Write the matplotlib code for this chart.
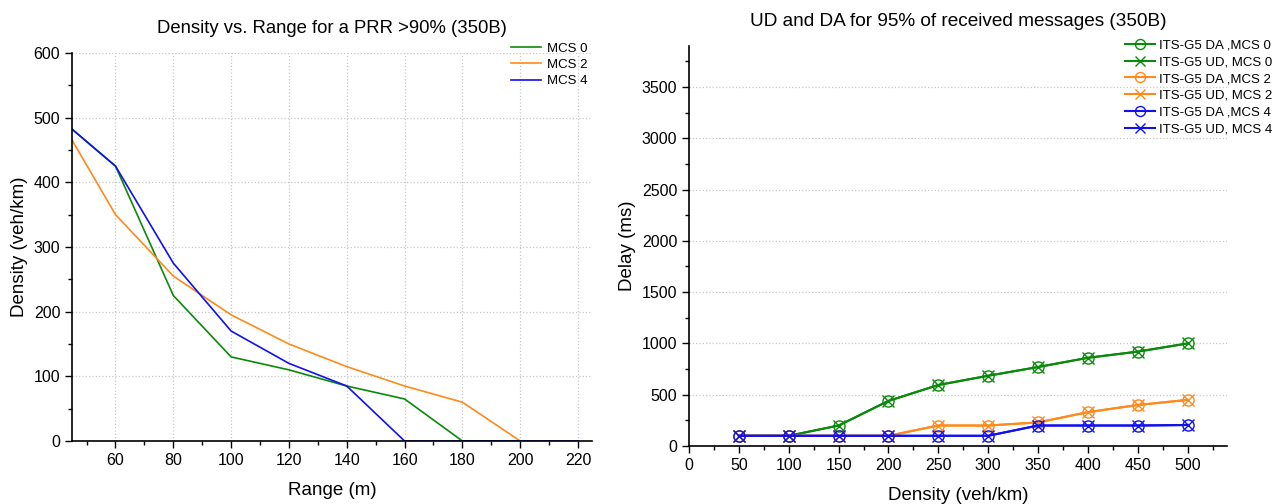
import matplotlib
matplotlib.use("Agg")
from matplotlib import pyplot as plt
from matplotlib.ticker import MultipleLocator

plt.rcParams['font.family'] = ['Liberation Sans', 'DejaVu Sans']

# left chart: density vs range
rng = [45, 60, 80, 100, 120, 140, 160, 180, 200, 220]
mcs0_density = [482, 425, 225, 130, 110, 85, 65, 0, 0, 0]
mcs2_density = [465, 350, 255, 195, 150, 115, 85, 60, 0, 0]
mcs4_density = [482, 425, 275, 170, 120, 85, 0, 0, 0, 0]

# right chart: delay vs density
density = [50, 100, 150, 200, 250, 300, 350, 400, 450, 500]
mcs0_da = [100, 100, 200, 440, 595, 685, 770, 860, 920, 1000]
mcs0_ud = [100, 100, 200, 440, 595, 685, 770, 860, 920, 1000]
mcs2_da = [100, 100, 100, 100, 200, 200, 230, 330, 400, 450]
mcs2_ud = [100, 100, 100, 100, 200, 200, 230, 330, 400, 450]
mcs4_da = [100, 100, 100, 100, 100, 100, 200, 200, 200, 205]
mcs4_ud = [100, 100, 100, 100, 100, 100, 200, 200, 200, 205]

green = '#0a8a0a'
orange = '#ff8a1a'
blue = '#1010f0'

fig = plt.figure(figsize=(12.88, 5.04), dpi=100)

# ---- left
ax1 = fig.add_axes([0.056, 0.125, 0.404, 0.77])
ax1.plot(rng, mcs0_density, color=green, lw=1.2, label='MCS 0')
ax1.plot(rng, mcs2_density, color=orange, lw=1.2, label='MCS 2')
ax1.plot(rng, mcs4_density, color=blue, lw=1.2, label='MCS 4')
ax1.set_xlim(45, 225)
ax1.set_ylim(0, 600)
ax1.xaxis.set_minor_locator(MultipleLocator(10))
ax1.yaxis.set_major_locator(MultipleLocator(100))
ax1.yaxis.set_minor_locator(MultipleLocator(50))
ax1.set_xticks(range(60, 221, 20))
ax1.grid(True, which='major', color='#c8c8c8', ls=':', lw=0.9)
ax1.set_title('Density vs. Range for a PRR >90% (350B)', fontsize=13.3, pad=14)
ax1.set_xlabel('Range (m)', fontsize=13.5, labelpad=10)
ax1.set_ylabel('Density (veh/km)', fontsize=13.5)
ax1.legend(loc='upper right', bbox_to_anchor=(1.0, 1.04), frameon=False,
           fontsize=9.5, handlelength=2.3, labelspacing=0.3, borderaxespad=0,
           handletextpad=0.4)

# ---- right
ax2 = fig.add_axes([0.535, 0.115, 0.418, 0.794])
ax2.plot(density, mcs0_da, color=green, lw=1.5, marker='o', mfc='none', ms=8, mew=1, label='ITS-G5 DA ,MCS 0')
ax2.plot(density, mcs0_ud, color=green, lw=1.5, marker='x', ms=8, mew=1, label='ITS-G5 UD, MCS 0')
ax2.plot(density, mcs2_da, color=orange, lw=1.5, marker='o', mfc='none', ms=8, mew=1, label='ITS-G5 DA ,MCS 2')
ax2.plot(density, mcs2_ud, color=orange, lw=1.5, marker='x', ms=8, mew=1, label='ITS-G5 UD, MCS 2')
ax2.plot(density, mcs4_da, color=blue, lw=1.5, marker='o', mfc='none', ms=8, mew=1, label='ITS-G5 DA ,MCS 4')
ax2.plot(density, mcs4_ud, color=blue, lw=1.5, marker='x', ms=8, mew=1, label='ITS-G5 UD, MCS 4')
ax2.set_xlim(0, 540)
ax2.set_ylim(0, 3900)
ax2.xaxis.set_minor_locator(MultipleLocator(25))
ax2.yaxis.set_minor_locator(MultipleLocator(250))
ax2.set_xticks(range(0, 501, 50))
ax2.set_yticks(range(0, 3501, 500))
ax2.grid(True, axis='y', which='major', color='#c8c8c8', ls=':', lw=0.9)
ax2.set_title('UD and DA for 95% of received messages (350B)', fontsize=13.7, pad=14)
ax2.set_xlabel('Density (veh/km)', fontsize=13.5, labelpad=10)
ax2.set_ylabel('Delay (ms)', fontsize=13.5)
ax2.legend(loc='upper left', bbox_to_anchor=(0.8, 1.03), frameon=False,
           fontsize=9.5, handlelength=2.3, labelspacing=0.35, borderaxespad=0,
           handletextpad=0.3, markerscale=0.9)

for ax in (ax1, ax2):
    ax.spines['top'].set_visible(False)
    ax.spines['right'].set_visible(False)
    ax.spines['left'].set_linewidth(1.2)
    ax.spines['bottom'].set_linewidth(1.2)
    ax.tick_params(which='major', length=5, width=1, labelsize=11.5)
    ax.tick_params(which='minor', length=3, width=1)

fig.savefig('out.png', dpi=100)
